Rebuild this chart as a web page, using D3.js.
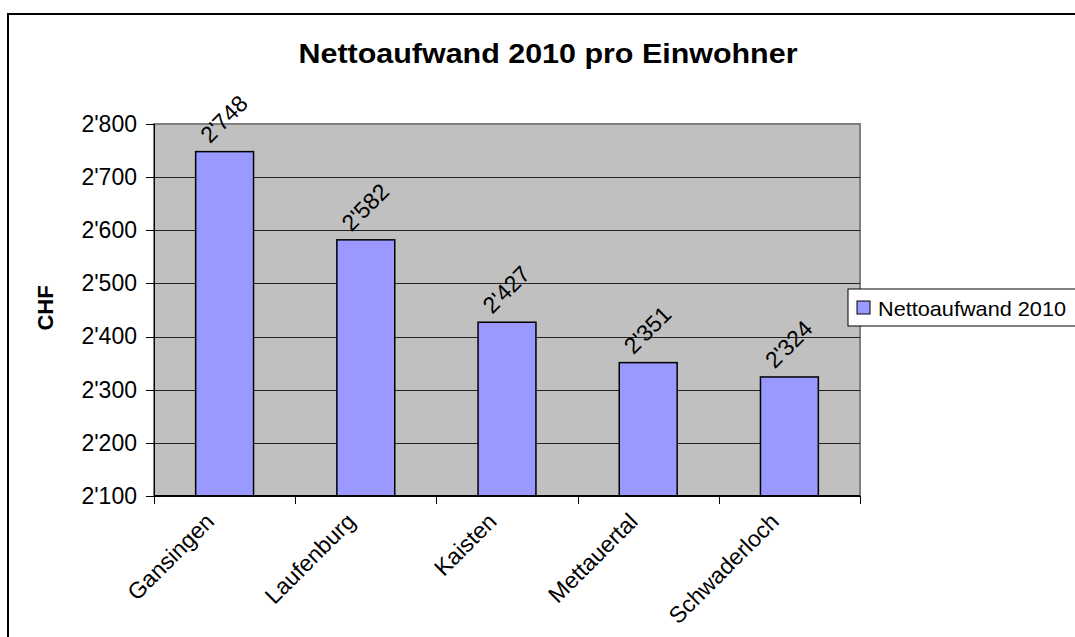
<!DOCTYPE html>
<meta charset="utf-8">
<script src="https://d3js.org/d3.v7.min.js"></script>
<style>
  body { margin: 0; background: #fff; }
  svg text { font-family: "Liberation Sans", Arial, sans-serif; fill: #000; }
  .axis path, .axis line { stroke: #000; shape-rendering: crispEdges; }
</style>
<div id="chart"></div>
<script>
  // data
  var categories = ["Gansingen", "Laufenburg", "Kaisten", "Mettauertal", "Schwaderloch"];
  var values = [2748, 2582, 2427, 2351, 2324];
  var yTicks = [2100, 2200, 2300, 2400, 2500, 2600, 2700, 2800];
  var seriesName = "Nettoaufwand 2010";
  var title = "Nettoaufwand 2010 pro Einwohner";
  var yLabel = "CHF";

  var W = 1075, H = 637;
  var plot = { left: 154, right: 860, top: 124, bottom: 496 };

  var locale = d3.formatLocale({ decimal: ".", thousands: "'", grouping: [3], currency: ["", ""] });
  var fmt = locale.format(",");

  var svg = d3.select("#chart").append("svg")
    .attr("width", W)
    .attr("height", H);

  // outer chart border (runs off the right/bottom edge)
  svg.append("rect")
    .attr("x", 8).attr("y", 14)
    .attr("width", 1120).attr("height", 700)
    .attr("fill", "#fff")
    .attr("stroke", "#000")
    .attr("stroke-width", 2);

  var x = d3.scaleBand()
    .domain(categories)
    .range([plot.left, plot.right])
    .paddingInner(0.59)
    .paddingOuter(0.295);

  var y = d3.scaleLinear()
    .domain([2100, 2800])
    .range([plot.bottom, plot.top]);

  // plot area
  svg.append("rect")
    .attr("x", plot.left).attr("y", plot.top)
    .attr("width", plot.right - plot.left)
    .attr("height", plot.bottom - plot.top)
    .attr("fill", "#c0c0c0")
    .attr("stroke", "#808080")
    .attr("stroke-width", 2);

  // gridlines
  svg.append("g")
    .selectAll("line")
    .data(yTicks.slice(1, -1))
    .join("line")
    .attr("x1", plot.left).attr("x2", plot.right)
    .attr("y1", d => Math.round(y(d)) + 0.5)
    .attr("y2", d => Math.round(y(d)) + 0.5)
    .attr("stroke", "#222")
    .attr("stroke-width", 1);

  // bars
  svg.append("g")
    .selectAll("rect")
    .data(values)
    .join("rect")
    .attr("x", (d, i) => x(categories[i]))
    .attr("y", d => y(d))
    .attr("width", x.bandwidth())
    .attr("height", d => y(2100) - y(d))
    .attr("fill", "#9999ff")
    .attr("stroke", "#000")
    .attr("stroke-width", 1.5);

  // value labels
  svg.append("g")
    .selectAll("text")
    .data(values)
    .join("text")
    .attr("text-anchor", "middle")
    .style("font-size", "23px")
    .attr("transform", (d, i) => "translate(" + (x(categories[i]) + x.bandwidth() / 2 + 5) + "," + (y(d) - 27) + ")rotate(-45)")
    .text(d => fmt(d));

  // y axis
  var yAxis = svg.append("g")
    .attr("class", "axis")
    .attr("transform", "translate(" + plot.left + ",0)")
    .call(d3.axisLeft(y).tickValues(yTicks).tickSize(8).tickPadding(9).tickFormat(fmt));
  yAxis.selectAll("text").style("font-size", "23px");
  yAxis.select(".domain").attr("stroke-width", 1.5);

  // x axis line + ticks at category boundaries
  var xAxis = svg.append("g").attr("class", "axis");
  xAxis.append("line")
    .attr("x1", plot.left).attr("x2", plot.right)
    .attr("y1", plot.bottom).attr("y2", plot.bottom)
    .attr("stroke-width", 1.5);
  var gap = (x.step() - x.bandwidth()) / 2;
  var bounds = categories.map(c => x(c) - gap).concat([x(categories[categories.length - 1]) + x.bandwidth() + gap]);
  xAxis.selectAll(".tick")
    .data(bounds)
    .join("line")
    .attr("class", "tick")
    .attr("x1", d => Math.round(d) + 0.5).attr("x2", d => Math.round(d) + 0.5)
    .attr("y1", plot.bottom).attr("y2", plot.bottom + 8);

  svg.append("g")
    .selectAll("text")
    .data(categories)
    .join("text")
    .attr("text-anchor", "end")
    .style("font-size", "23px")
    .attr("transform", d => "translate(" + (x(d) + x.bandwidth() / 2 - 9) + "," + (plot.bottom + 27) + ")rotate(-45)")
    .text(d => d);

  // y axis title
  svg.append("text")
    .attr("text-anchor", "middle")
    .style("font-size", "22px")
    .style("font-weight", "bold")
    .attr("transform", "translate(53,308)rotate(-90)")
    .text(yLabel);

  // chart title
  svg.append("text")
    .attr("x", 548)
    .attr("y", 63)
    .attr("text-anchor", "middle")
    .style("font-size", "27px")
    .style("font-weight", "bold")
    .attr("textLength", 499)
    .attr("lengthAdjust", "spacingAndGlyphs")
    .text(title);

  // legend
  var legend = svg.append("g").attr("transform", "translate(848,289)");
  legend.append("rect")
    .attr("width", 240).attr("height", 37)
    .attr("fill", "#fff")
    .attr("stroke", "#000")
    .attr("stroke-width", 1);
  legend.append("rect")
    .attr("x", 9).attr("y", 12)
    .attr("width", 13).attr("height", 13)
    .attr("fill", "#9999ff")
    .attr("stroke", "#000");
  legend.append("text")
    .attr("x", 30).attr("y", 27)
    .style("font-size", "21px")
    .attr("textLength", 188)
    .attr("lengthAdjust", "spacingAndGlyphs")
    .text(seriesName);
</script>
